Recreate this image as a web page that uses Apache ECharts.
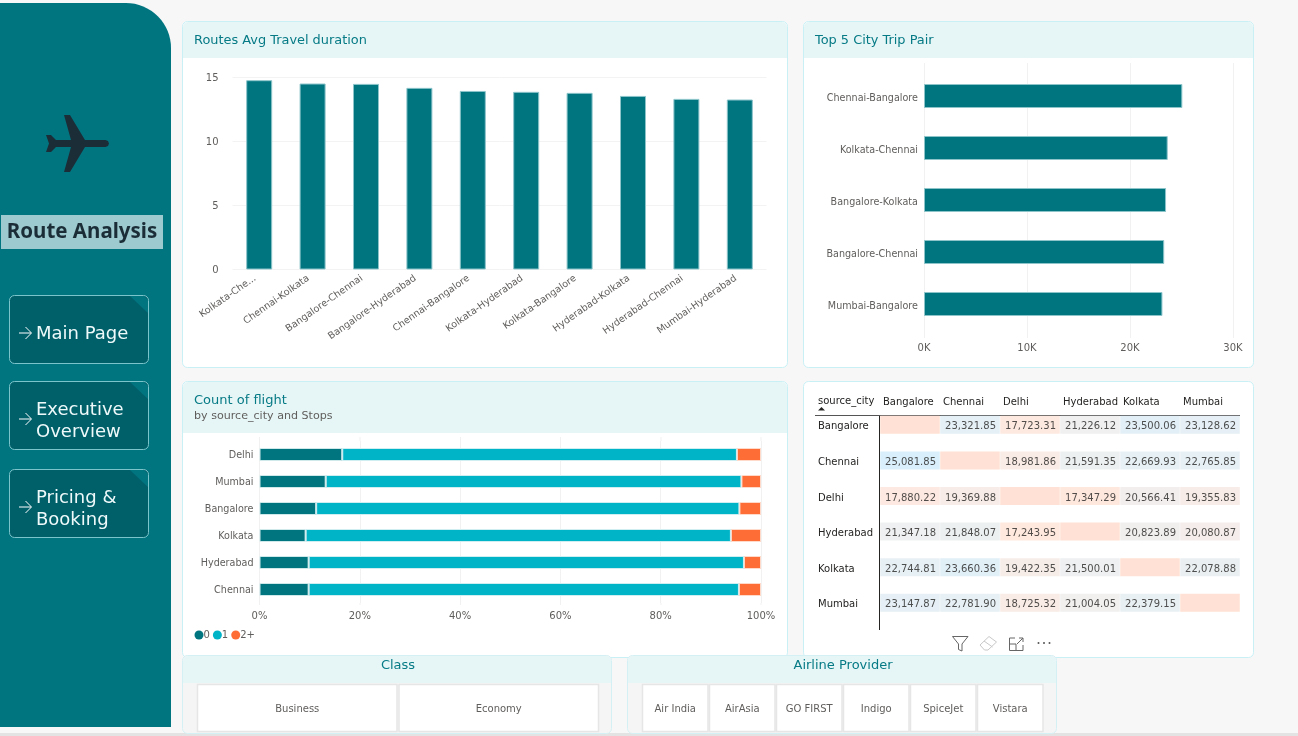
<!DOCTYPE html>
<html>
<head>
<meta charset="utf-8">
<title>Route Analysis</title>
<script src="https://cdn.jsdelivr.net/npm/echarts@6/dist/echarts.min.js"></script>
<style>
  html, body { margin: 0; padding: 0; background: #f7f7f7; }
  #main { width: 1298px; height: 736px; }
</style>
</head>
<body>
<div id="main"></div>
<script>
// routes avg travel duration
var routeNames = ['Kolkata-Che...', 'Chennai-Kolkata', 'Bangalore-Chennai', 'Bangalore-Hyderabad', 'Chennai-Bangalore',
  'Kolkata-Hyderabad', 'Kolkata-Bangalore', 'Hyderabad-Kolkata', 'Hyderabad-Chennai', 'Mumbai-Hyderabad'];
var routeHours = [14.79, 14.53, 14.5, 14.19, 13.95, 13.88, 13.8, 13.56, 13.33, 13.28];

// top 5 city trip pair
var pairNames = ['Chennai-Bangalore', 'Kolkata-Chennai', 'Bangalore-Kolkata', 'Bangalore-Chennai', 'Mumbai-Bangalore'];
var pairValues = [25081.85, 23660.36, 23500.06, 23321.85, 23147.87];

// count of flight, share per stops
var stopCities = ['Delhi', 'Mumbai', 'Bangalore', 'Kolkata', 'Hyderabad', 'Chennai'];
var stops0 = [16.5, 13.2, 11.3, 9.2, 9.8, 9.8];
var stops1 = [78.7, 82.9, 84.4, 84.8, 86.8, 85.8];
var stops2 = [4.8, 3.9, 4.3, 6.0, 3.4, 4.4];

// matrix source -> destination
var tableCities = ['Bangalore', 'Chennai', 'Delhi', 'Hyderabad', 'Kolkata', 'Mumbai'];
var rowBangalore = [null, 23321.85, 17723.31, 21226.12, 23500.06, 23128.62];
var rowChennai = [25081.85, null, 18981.86, 21591.35, 22669.93, 22765.85];
var rowDelhi = [17880.22, 19369.88, null, 17347.29, 20566.41, 19355.83];
var rowHyderabad = [21347.18, 21848.07, 17243.95, null, 20823.89, 20080.87];
var rowKolkata = [22744.81, 23660.36, 19422.35, 21500.01, null, 22078.88];
var rowMumbai = [23147.87, 22781.90, 18725.32, 21004.05, 22379.15, null];

// slicers
var classNames = ['Business', 'Economy'];
var airlineNames = ['Air India', 'AirAsia', 'GO FIRST', 'Indigo', 'SpiceJet', 'Vistara'];

var TEAL = '#007580';
var FONT = '"DejaVu Sans", sans-serif';
var GRAY = '#605e5c';

var myChart = echarts.init(document.getElementById('main'));
var gfx = [];

function rect(x, y, w, h, fill, stroke, r, lw) {
  gfx.push({
    type: 'rect', silent: true, z: -10,
    shape: { x: x, y: y, width: w, height: h, r: r || 0 },
    style: { fill: fill, stroke: stroke || null, lineWidth: lw || 1 }
  });
}
function text(s, x, y, size, color, align, weight, family) {
  gfx.push({
    type: 'text', silent: true, z: -10, x: x, y: y + 1,
    style: {
      text: s, fontSize: size, fill: color, fontFamily: family || FONT, fontWeight: weight || 'normal',
      align: align || 'left', verticalAlign: 'middle'
    }
  });
}
function polygon(points, fill, stroke) {
  gfx.push({
    type: 'polygon', silent: true, z: -10,
    shape: { points: points },
    style: { fill: fill || 'none', stroke: stroke || null, lineWidth: 1 }
  });
}
function polyline(points, stroke, lw) {
  gfx.push({
    type: 'polyline', silent: true, z: -10,
    shape: { points: points },
    style: { fill: 'none', stroke: stroke, lineWidth: lw || 1 }
  });
}
function card(x, y, w, h, headH) {
  rect(x + 0.5, y + 0.5, w, h, '#fff', '#c8f0f5', 5);
  if (headH) rect(x + 1, y + 1, w - 1, headH, '#e6f6f7', null, [5, 5, 0, 0]);
}
function navButton(y, lines) {
  rect(9.5, y + 0.5, 139, 68, '#00606a', '#7cc4cb', 5);
  polygon([[130, y + 1], [144, y + 1], [148, y + 5], [148, y + 18]], TEAL);
  var mid = y + 38;
  polyline([[19, mid], [31, mid]], '#ffffff');
  polyline([[25.5, mid - 6], [31.5, mid], [25.5, mid + 6]], '#ffffff');
  if (lines.length === 1) {
    text(lines[0], 36, mid, 18, '#eef9fa');
  } else {
    text(lines[0], 36, mid - 10, 18, '#eef9fa');
    text(lines[1], 36, mid + 12, 18, '#eef9fa');
  }
}
function slicerCard(x, w, title, titleX) {
  rect(x + 0.5, 655.5, w, 78, '#f5f5f5', '#d5f0f4', 5);
  rect(x + 1, 656, w - 1, 27, '#e6f6f7', null, [5, 5, 0, 0]);
  text(title, titleX, 665, 13, '#067a85', 'center');
}
function slicerItems(names, x0, w, gap) {
  names.forEach(function (n, i) {
    var x = x0 + i * (w + gap);
    rect(x, 684.5, w, 47, '#fff', '#e6e6e6', 0, 1.5);
    text(n, x + w / 2, 708.5, 10, GRAY, 'center');
  });
}
// gridlines stick out past the category bands a little
function gridStubs(xs, y0, y1, y2, y3) {
  xs.forEach(function (x) {
    polyline([[x, y0], [x, y1]], '#f1f1f1');
    polyline([[x, y2], [x, y3]], '#f1f1f1');
  });
}
// axis label pushed down a bit, plain padding does not move it
function nudged(color, size, pad, extra) {
  return Object.assign({
    formatter: '{a|{value}}',
    rich: { a: { color: color, fontSize: size, fontFamily: FONT, padding: [pad, 0, 0, 0] } }
  }, extra);
}

// page chrome
rect(0, 733, 1298, 3, '#e3e3e3');
rect(0, 3, 171, 724, TEAL, null, [0, 45, 0, 0]);
polygon([[64, 115], [70, 115], [85, 140], [105.5, 140], [108, 141], [109, 143.5], [108, 146], [105.5, 147], [85, 147], [70, 172], [64, 172],
  [71, 147], [56, 147], [51, 152], [46, 152], [49, 143.5], [46, 135], [51, 135], [56, 140], [71, 140]], '#1b2e38');
rect(1, 215, 162, 34, '#9ccace');
text('Route Analysis', 82, 231, 20.5, '#1b2e38', 'center', 'bold', '"Noto Sans", sans-serif');
navButton(295, ['Main Page']);
navButton(381, ['Executive', 'Overview']);
navButton(469, ['Pricing &', 'Booking']);

card(182, 21, 605, 346, 36);
text('Routes Avg Travel duration', 194, 39.5, 12.9, '#067a85');
card(803, 21, 450, 346, 36);
text('Top 5 City Trip Pair', 815, 39.5, 12.9, '#067a85');
card(182, 381, 605, 276, 51);
text('Count of flight', 194, 399.5, 13, '#067a85');
text('by source_city and Stops', 194, 415, 11.1, GRAY);
card(803, 381, 450, 276, 0);

gridStubs([924.5, 1027.5, 1130.5, 1233.5], 63, 70, 330, 338);
gridStubs([259.5, 360, 460.5, 560.5, 661, 761], 437, 441, 603, 605);

slicerCard(182, 429, 'Class', 398);
slicerItems(classNames, 197.5, 199.5, 2);
slicerCard(627, 429, 'Airline Provider', 843);
slicerItems(airlineNames, 642.5, 65.5, 1.5);

// table header furniture
text('source_city', 818, 400.5, 10, '#252423');
polygon([[818, 410.5], [821.5, 407], [825, 410.5]], '#252423');
polyline([[815, 415.5], [1240, 415.5]], '#555');
polyline([[879.5, 416], [879.5, 630]], '#252423');

// visual header icons
polygon([[952.5, 636.5], [968, 636.5], [962, 644], [962, 651], [958.5, 649.5], [958.5, 644]], null, '#666');
polygon([[980, 645], [989, 636.5], [996.5, 642], [988, 650], [984.5, 650]], null, '#c8c8c8');
polyline([[984, 641], [992.5, 647]], '#c8c8c8');
polyline([[1015, 638], [1009.5, 638], [1009.5, 650.5], [1023, 650.5], [1023, 645]], '#666');
polyline([[1009.5, 644], [1016, 644], [1016, 650.5]], '#666');
polyline([[1017, 644], [1023, 638]], '#666');
polyline([[1019, 638], [1023, 638], [1023, 642]], '#666');
[1038.5, 1044, 1049.5].forEach(function (x) {
  gfx.push({ type: 'circle', silent: true, z: -10, shape: { cx: x, cy: 643, r: 1 }, style: { fill: '#555' } });
});

// table cells
var tableRows = [rowBangalore, rowChennai, rowDelhi, rowHyderabad, rowKolkata, rowMumbai];
var cellData = [];
var blankData = [];
tableRows.forEach(function (row, r) {
  row.forEach(function (v, c) {
    if (v === null) blankData.push([c, r]);
    else cellData.push([c, r, v]);
  });
});

var axisText = { color: GRAY, fontSize: 10, fontFamily: FONT };
var catText = { color: GRAY, fontSize: 9.6, fontFamily: FONT };
var barBorder = { color: TEAL, borderColor: '#8cc4ca', borderWidth: 1 };

var option = {
  animation: false,
  textStyle: { fontFamily: FONT },
  graphic: { elements: gfx },
  legend: {
    left: 194.5, top: 630, icon: 'circle', itemWidth: 9, itemHeight: 9, itemGap: 3,
    padding: 0, selectedMode: false,
    itemStyle: { borderWidth: 0 },
    textStyle: { color: GRAY, fontSize: 10, fontFamily: FONT, padding: [0, 0, 0, -5] },
    data: ['0', '1', '2+']
  },
  visualMap: {
    show: false, seriesIndex: 5, dimension: 2, min: 17243, max: 25082,
    inRange: { color: ['#ffe2d5', '#ececec', '#d0ebfa'] }
  },
  grid: [
    { left: 232.5, top: 77.5, width: 534, height: 192 },
    { left: 924, top: 70, width: 309, height: 260 },
    { left: 259.5, top: 441, width: 501.5, height: 162 },
    { left: 880, top: 407, width: 360, height: 213.6 }
  ],
  xAxis: [
    {
      gridIndex: 0, type: 'category', data: routeNames,
      axisLine: { show: false }, axisTick: { show: false },
      axisLabel: Object.assign({}, catText, { rotate: 35, interval: 0, margin: 5, padding: [0, 5, 0, 0] })
    },
    {
      gridIndex: 1, type: 'value', min: 0, max: 30000, interval: 10000,
      axisLine: { show: false }, axisTick: { show: false },
      splitLine: { lineStyle: { color: '#f1f1f1' } },
      axisLabel: Object.assign({}, axisText, { margin: 13, formatter: function (v) { return (v / 1000) + 'K'; } })
    },
    {
      gridIndex: 2, type: 'value', min: 0, max: 100, interval: 20,
      axisLine: { show: false }, axisTick: { show: false },
      splitLine: { lineStyle: { color: '#f1f1f1' } },
      axisLabel: Object.assign({}, axisText, { margin: 8.5, formatter: '{value}%' })
    },
    {
      gridIndex: 3, type: 'category', position: 'top', data: tableCities.concat(['']), boundaryGap: false,
      axisLine: { show: false }, axisTick: { show: false }, splitLine: { show: false },
      axisLabel: { color: '#252423', fontSize: 10, fontFamily: FONT, align: 'left', interval: 0, margin: 0, showMaxLabel: false, padding: [0, 0, 0, 3] }
    },
    {
      gridIndex: 3, type: 'category', data: tableCities, show: false
    }
  ],
  yAxis: [
    {
      gridIndex: 0, type: 'value', min: 0, max: 15, interval: 5,
      axisLine: { show: false }, axisTick: { show: false },
      splitLine: { lineStyle: { color: '#f3f3f3' } },
      axisLabel: nudged(GRAY, 10, 2, { margin: 14 })
    },
    {
      gridIndex: 1, type: 'category', data: pairNames, inverse: true,
      axisLine: { show: false }, axisTick: { show: false },
      axisLabel: nudged(GRAY, 9.6, 4, { margin: 6 })
    },
    {
      gridIndex: 2, type: 'category', data: stopCities, inverse: true,
      axisLine: { show: false }, axisTick: { show: false },
      axisLabel: nudged(GRAY, 9.6, 2, { margin: 6 })
    },
    {
      gridIndex: 3, type: 'category', data: tableCities, inverse: true,
      axisLine: { show: false }, axisTick: { show: false }, splitLine: { show: false },
      axisLabel: nudged('#252423', 10, 4, { align: 'left', margin: 62 })
    }
  ],
  series: [
    { type: 'bar', xAxisIndex: 0, yAxisIndex: 0, data: routeHours, barWidth: 26, itemStyle: barBorder },
    { type: 'bar', xAxisIndex: 1, yAxisIndex: 1, data: pairValues, barWidth: 24, itemStyle: barBorder },
    { name: '0', type: 'bar', stack: 'stops', xAxisIndex: 2, yAxisIndex: 2, data: stops0, barWidth: 13, itemStyle: { color: TEAL, borderColor: '#cfe8ea', borderWidth: 1 } },
    { name: '1', type: 'bar', stack: 'stops', xAxisIndex: 2, yAxisIndex: 2, data: stops1, barWidth: 13, itemStyle: { color: '#00b4c8', borderColor: '#cfeef2', borderWidth: 1 } },
    { name: '2+', type: 'bar', stack: 'stops', xAxisIndex: 2, yAxisIndex: 2, data: stops2, barWidth: 13, itemStyle: { color: '#ff6d37', borderColor: '#ffd9c9', borderWidth: 1 } },
    {
      type: 'scatter', xAxisIndex: 4, yAxisIndex: 3, data: cellData, symbol: 'rect', symbolSize: [59.5, 18], z: 2,
      label: {
        show: true, position: 'inside', align: 'right', offset: [26, 2], color: '#252423', fontSize: 10, fontFamily: FONT,
        formatter: function (p) { return p.value[2].toLocaleString('en-US', { minimumFractionDigits: 2, maximumFractionDigits: 2 }); }
      }
    },
    { type: 'scatter', xAxisIndex: 4, yAxisIndex: 3, data: blankData, symbol: 'rect', symbolSize: [59.5, 18], itemStyle: { color: '#ffe2d5', opacity: 1 } }
  ]
};
myChart.setOption(option);
</script>
</body>
</html>
